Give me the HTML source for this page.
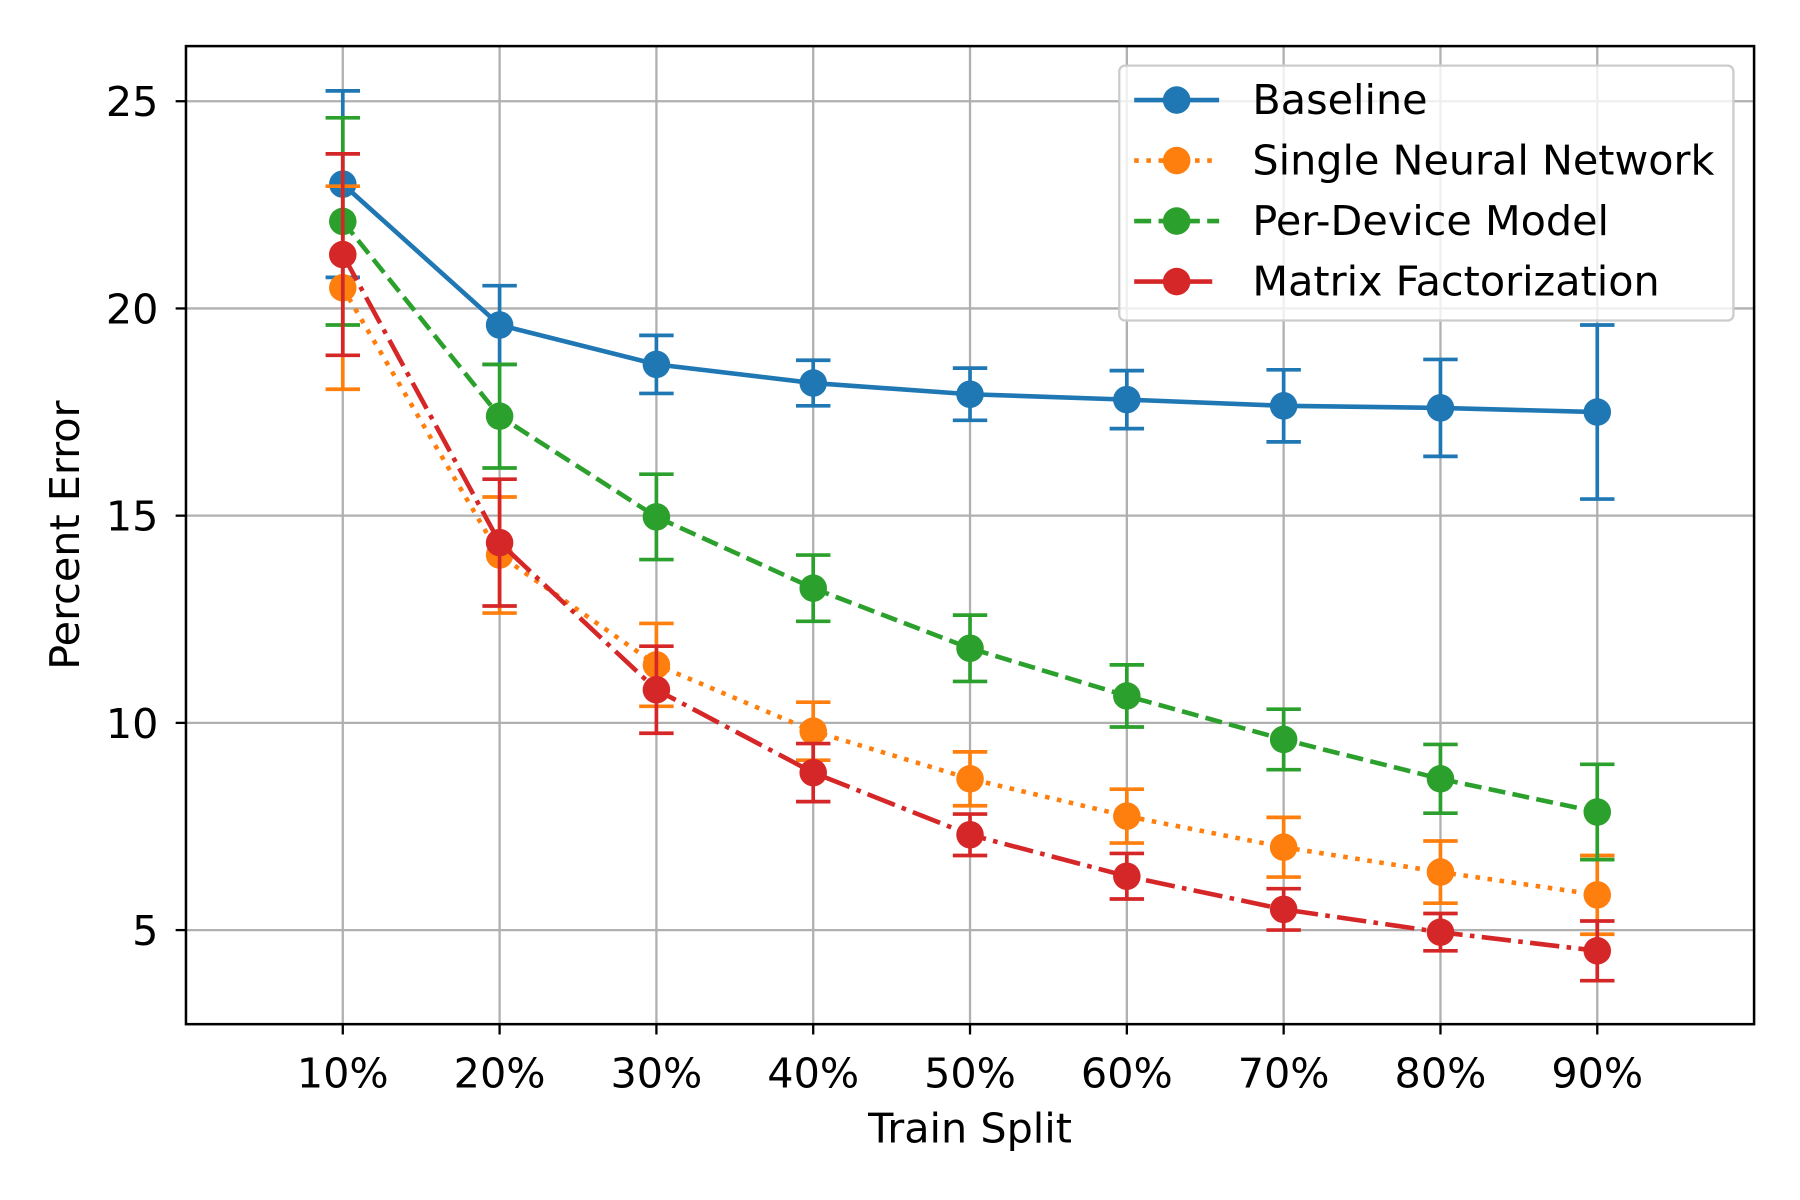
<!DOCTYPE html>
<html><head><meta charset="utf-8"><style>
html,body{margin:0;padding:0;background:#fff}
svg{display:block;font-family:"DejaVu Sans","Liberation Sans",sans-serif}
</style></head><body>
<svg id="chart" width="1800" height="1200" viewBox="0 0 1568 1045" xmlns="http://www.w3.org/2000/svg">
<rect width="1568" height="1045" fill="#fff"/>
<g id="grid"></g>
<g id="series"></g>
<rect x="162" y="40" width="1366" height="852" fill="none" stroke="#000" stroke-width="2.2"/>
<g id="ticks"></g>
<text x="845" y="995" font-size="36" text-anchor="middle">Train Split</text>
<text x="69" y="466" font-size="36" text-anchor="middle" transform="rotate(-90 69 466)">Percent Error</text>
<g id="legend"></g>
</svg>
<script>
const categories = ["10%","20%","30%","40%","50%","60%","70%","80%","90%"];
const yTicks = [5,10,15,20,25];
const seriesNames = ["Baseline","Single Neural Network","Per-Device Model","Matrix Factorization"];
const baseline = [23.0,19.6,18.65,18.2,17.93,17.8,17.65,17.6,17.5];
const baselineErr = [2.25,0.95,0.7,0.55,0.63,0.7,0.87,1.17,2.1];
const singleNN = [20.5,14.05,11.4,9.8,8.65,7.75,7.0,6.4,5.85];
const singleNNErr = [2.45,1.4,1.0,0.7,0.65,0.65,0.72,0.75,0.95];
const perDevice = [22.1,17.4,14.97,13.25,11.8,10.65,9.6,8.65,7.85];
const perDeviceErr = [2.5,1.25,1.03,0.8,0.8,0.75,0.73,0.83,1.15];
const matrixFact = [21.3,14.35,10.8,8.8,7.3,6.3,5.5,4.95,4.5];
const matrixFactErr = [2.43,1.53,1.05,0.7,0.5,0.55,0.5,0.45,0.72];

const NS="http://www.w3.org/2000/svg";
const L=162,R=1528,T=40,B=892,yMin=2.73,yMax=26.33;
const xs=i=>L+(i+1)/10*(R-L);
const ys=v=>B-(v-yMin)/(yMax-yMin)*(B-T);
function mk(tag,attrs,parent){const e=document.createElementNS(NS,tag);for(const k in attrs)e.setAttribute(k,attrs[k]);parent.appendChild(e);return e;}
const grid=document.getElementById('grid'),ticks=document.getElementById('ticks');
categories.forEach((c,i)=>{
  const g=mk('line',{x1:xs(i),x2:xs(i),y1:T,y2:B,stroke:'#b0b0b0','stroke-width':2},grid);
  
  
  mk('line',{x1:xs(i),x2:xs(i),y1:B,y2:B+9,stroke:'#000','stroke-width':2},ticks);
  const t=mk('text',{x:xs(i),y:947,'font-size':36,'text-anchor':'middle'},ticks);
  t.textContent=c;
  
  
});
yTicks.forEach(v=>{
  const g=mk('line',{x1:L,x2:R,y1:ys(v),y2:ys(v),stroke:'#b0b0b0','stroke-width':2},grid);
  
  
  mk('line',{x1:L-9,x2:L,y1:ys(v),y2:ys(v),stroke:'#000','stroke-width':2},ticks);
  const t=mk('text',{x:L-24,y:ys(v)+13,'font-size':36,'text-anchor':'end'},ticks);
  t.textContent=v;
  
  
});
const defs=[
 {vals:baseline,err:baselineErr,color:'#1f77b4',dash:'',key:'baseline'},
 {vals:singleNN,err:singleNNErr,color:'#ff7f0e',dash:'4 6.6',key:'single-nn'},
 {vals:perDevice,err:perDeviceErr,color:'#2ca02c',dash:'14.8 6.4',key:'per-device'},
 {vals:matrixFact,err:matrixFactErr,color:'#d62728',dash:'25.6 6.4 4 6.4',key:'matrix-factorization'}];
const sg=document.getElementById('series');
defs.forEach(d=>{
  const g=mk('g',{},sg);
  
  
  const pts=d.vals.map((v,i)=>xs(i)+','+ys(v)).join(' ');
  const pl=mk('polyline',{points:pts,fill:'none',stroke:d.color,'stroke-width':4,'stroke-dasharray':d.dash},g);
  
  
  d.vals.forEach((v,i)=>{
    const x=xs(i),y1=ys(v+d.err[i]),y2=ys(v-d.err[i]);
    const eb=mk('path',{d:`M${x},${y1}V${y2}M${x-15},${y1}H${x+15}M${x-15},${y2}H${x+15}`,stroke:d.color,'stroke-width':3.2,fill:'none'},g);
    
    
  });
  d.vals.forEach((v,i)=>{
    const c=mk('circle',{cx:xs(i),cy:ys(v),r:12,fill:d.color},g);
    
    
  });
});
const lg=document.getElementById('legend');
const box=mk('rect',{x:975,y:57,width:535,height:222,rx:5,fill:'#fff','fill-opacity':0.8,stroke:'#cccccc','stroke-width':2},lg);


defs.forEach((d,i)=>{
  const y=87+i*52.7;
  const g=mk('g',{},lg);
  
  
  mk('line',{x1:988,x2:1062,y1:y,y2:y,stroke:d.color,'stroke-width':4,'stroke-dasharray':d.dash},g);
  mk('circle',{cx:1025,cy:y,r:12,fill:d.color},g);
  const t=mk('text',{x:1091,y:y+12,'font-size':36},g);
  t.textContent=seriesNames[i];
});
</script>
</body></html>
